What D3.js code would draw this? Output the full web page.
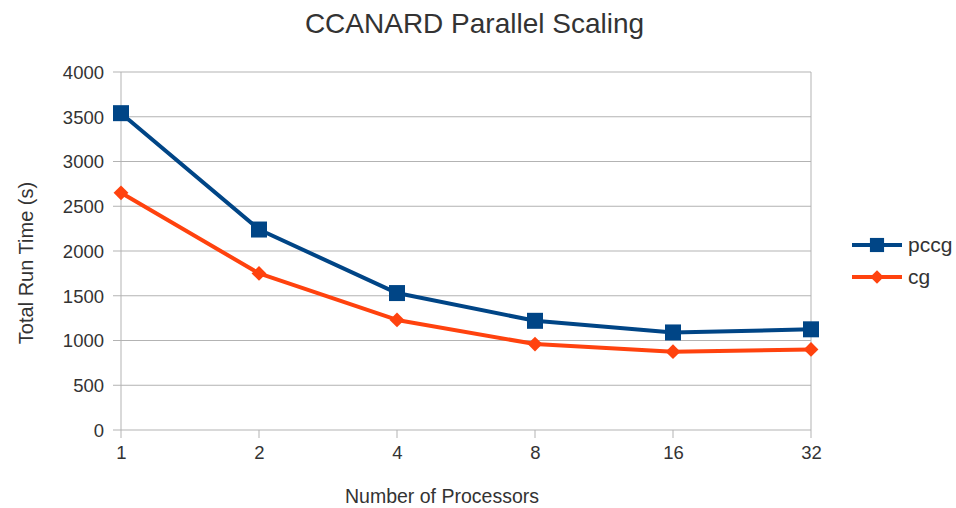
<!DOCTYPE html>
<html><head><meta charset="utf-8">
<script src="https://cdn.jsdelivr.net/npm/d3@7"></script>
<style>body{margin:0;background:#fff}svg{display:block;font-family:"Liberation Sans",Arial,sans-serif}</style>
</head><body><svg width="956" height="508"></svg>
<script>
const processors = [1, 2, 4, 8, 16, 32];
const pccg = [3540, 2240, 1530, 1220, 1090, 1125];
const cg = [2650, 1750, 1230, 960, 875, 900];
const yTicks = [0, 500, 1000, 1500, 2000, 2500, 3000, 3500, 4000];
const seriesNames = ["pccg", "cg"];
const colors = ["#004586", "#ff420e"];

const svg = d3.select("svg");
const x = d3.scalePoint().domain(processors).range([121, 811]);
const y = d3.scaleLinear().domain([0, 4000]).range([430, 72]);
const grid = "#b3b3b3";

svg.append("g").selectAll("line").data(yTicks).join("line")
  .attr("x1", 113).attr("x2", 811).attr("y1", d => y(d)).attr("y2", d => y(d))
  .attr("stroke", grid).attr("stroke-width", 1);
svg.append("line").attr("x1", x(1)).attr("x2", x(1)).attr("y1", 72).attr("y2", 430).attr("stroke", grid);
svg.append("line").attr("x1", x(32)).attr("x2", x(32)).attr("y1", 72).attr("y2", 430).attr("stroke", grid);
svg.append("g").selectAll("line").data(processors).join("line")
  .attr("x1", d => x(d)).attr("x2", d => x(d)).attr("y1", 430).attr("y2", 438)
  .attr("stroke", grid).attr("stroke-width", 1);

const yAxis = svg.append("g").attr("transform", "translate(113,0)")
  .call(d3.axisLeft(y).tickValues(yTicks).tickFormat(d3.format("d")).tickSize(0).tickPadding(9));
yAxis.select(".domain").remove();
yAxis.selectAll("text").attr("font-size", 18.5).attr("fill", "#333").attr("dy", "0.34em").attr("font-family", "Liberation Sans, Arial, sans-serif");

const xAxis = svg.append("g").attr("transform", "translate(0,438)")
  .call(d3.axisBottom(x).tickSize(0).tickPadding(8));
xAxis.select(".domain").remove();
xAxis.selectAll("text").attr("font-size", 18.5).attr("fill", "#333").attr("font-family", "Liberation Sans, Arial, sans-serif");

svg.append("text").attr("x", 474.5).attr("y", 33).attr("text-anchor", "middle")
  .attr("font-size", 28).attr("fill", "#333").text("CCANARD Parallel Scaling");
svg.append("text").attr("x", 442).attr("y", 503).attr("text-anchor", "middle")
  .attr("font-size", 19.5).attr("fill", "#333").text("Number of Processors");
svg.append("text").attr("transform", "translate(33,263) rotate(-90)").attr("text-anchor", "middle")
  .attr("font-size", 20).attr("fill", "#333").text("Total Run Time (s)");

const data = [pccg, cg];
const line = d3.line().x((d, i) => x(processors[i])).y(d => y(d));
const sq = d3.symbol().type(d3.symbolSquare).size(256);
const dia = d3.symbol().type(d3.symbolSquare).size(110);

data.forEach((s, k) => {
  svg.append("path").datum(s).attr("d", line).attr("fill", "none")
    .attr("stroke", colors[k]).attr("stroke-width", 4).attr("stroke-linejoin", "round");
  svg.append("g").selectAll("path").data(s).join("path")
    .attr("transform", (d, i) => `translate(${x(processors[i])},${y(d)})` + (k === 1 ? " rotate(45)" : ""))
    .attr("d", k === 0 ? sq : dia).attr("fill", colors[k]);
});

const ly = [245, 277];
seriesNames.forEach((n, k) => {
  svg.append("line").attr("x1", 852).attr("x2", 902).attr("y1", ly[k]).attr("y2", ly[k])
    .attr("stroke", colors[k]).attr("stroke-width", 4);
  svg.append("path").attr("transform", `translate(877,${ly[k]})` + (k === 1 ? " rotate(45)" : ""))
    .attr("d", d3.symbol().type(d3.symbolSquare).size(k === 0 ? 200 : 90)())
    .attr("fill", colors[k]);
  svg.append("text").attr("x", 908).attr("y", ly[k] + 7).attr("font-size", 21)
    .attr("fill", "#333").text(n);
});
</script></body></html>
